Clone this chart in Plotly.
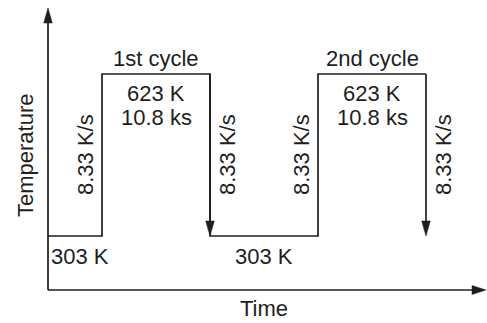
import plotly.graph_objects as go

# schematic data (time in arbitrary units, temperature in K)
time = [0, 1, 1, 3, 3, 5, 5, 7]
temp = [303, 303, 623, 623, 303, 303, 623, 623]
fall_times = [3, 7]
rise_times = [1, 5]
hold_mid = [2, 6]
low_T = 303
high_T = 623
cycle_labels = ["1st cycle", "2nd cycle"]
hold_label = ["623 K", "10.8 ks"]
rate_label = "8.33 K/s"
low_label = "303 K"

W, H = 487, 323
# mapping: 303 K -> pixel 236, 623 K -> pixel 74
b = (236 - 74) / (high_T - low_T)
a = 236 + low_T * b
ymin = (a - H) / b
ymax = a / b
# time: 0 -> pixel 48, 1 unit = 54 px
x0, u = 48, 54
xmin = -x0 / u
xmax = (W - x0) / u

def T_at(py):
    return (a - py) / b

def t_at(px):
    return (px - x0) / u

LC = "#1e1e1e"
LW = 1.7
FONT = dict(family="Liberation Sans, Arial, sans-serif", size=22, color=LC)

fig = go.Figure()
fig.add_trace(go.Scatter(x=time, y=temp, mode="lines",
                         line=dict(color=LC, width=LW), hoverinfo="skip"))

shapes = []

def arrowhead(xt, yt, direction, length=15, half=4.3):
    # direction: 'down', 'up', 'right' ; length/half in pixels
    if direction == "down":
        pts = [(xt, yt), (xt - half / u, yt + length / b), (xt + half / u, yt + length / b)]
    elif direction == "up":
        pts = [(xt, yt), (xt - half / u, yt - length / b), (xt + half / u, yt - length / b)]
    else:
        pts = [(xt, yt), (xt - length / u, yt + half / b), (xt - length / u, yt - half / b)]
    path = "M " + " L ".join(f"{p[0]},{p[1]}" for p in pts) + " Z"
    return dict(type="path", path=path, xref="x", yref="y", fillcolor=LC,
                line=dict(color=LC, width=0.5))

axis_bottom = T_at(290)
y_tip = T_at(8)
x_tip = t_at(486)
# axes lines
shapes.append(dict(type="line", x0=0, y0=axis_bottom, x1=0, y1=y_tip - 10 / b,
                   xref="x", yref="y", line=dict(color=LC, width=LW)))
shapes.append(dict(type="line", x0=0, y0=axis_bottom, x1=x_tip - 10 / u, y1=axis_bottom,
                   xref="x", yref="y", line=dict(color=LC, width=LW)))
shapes.append(arrowhead(0, y_tip, "up", length=15, half=4.3))
shapes.append(arrowhead(x_tip, axis_bottom, "right", length=14, half=4.5))
# falling segments with arrows
for ft in fall_times:
    shapes.append(dict(type="line", x0=ft, y0=high_T, x1=ft, y1=low_T + 8 / b,
                       xref="x", yref="y", line=dict(color=LC, width=LW)))
    shapes.append(arrowhead(ft, low_T, "down", length=15, half=4.3))

ann = []
mid_T = (low_T + high_T) / 2
for rt in rise_times:
    ann.append(dict(x=rt, y=mid_T, xref="x", yref="y", text=rate_label, textangle=-90,
                    showarrow=False, xshift=-17, font=FONT))
for ft in fall_times:
    ann.append(dict(x=ft, y=mid_T, xref="x", yref="y", text=rate_label, textangle=-90,
                    showarrow=False, xshift=17, font=FONT))
for hm, cl in zip(hold_mid, cycle_labels):
    ann.append(dict(x=hm, y=high_T, xref="x", yref="y", text=cl, showarrow=False,
                    yshift=16, font=FONT))
    ann.append(dict(x=hm, y=high_T, xref="x", yref="y", text=hold_label[0], showarrow=False,
                    yshift=-19, font=FONT, height=22))
    ann.append(dict(x=hm, y=high_T, xref="x", yref="y", text=hold_label[1], showarrow=False,
                    yshift=-43, font=FONT, height=22))
# low labels
ann.append(dict(x=0, y=low_T, xref="x", yref="y", text=low_label, showarrow=False,
                xanchor="left", xshift=1, yshift=-20, font=FONT))
ann.append(dict(x=(fall_times[0] + rise_times[1]) / 2, y=low_T, xref="x", yref="y",
                text=low_label, showarrow=False, yshift=-20, font=FONT))
# axis titles
ann.append(dict(x=(fall_times[0] + rise_times[1]) / 2, y=axis_bottom, xref="x", yref="y",
                text="Time", showarrow=False, yshift=-18, font=FONT))
ann.append(dict(x=0, y=mid_T, xref="x", yref="y", text="Temperature", textangle=-90,
                showarrow=False, xshift=-23, font=FONT))

fig.update_layout(
    width=W, height=H, margin=dict(l=0, r=0, t=0, b=0),
    paper_bgcolor="white", plot_bgcolor="white", showlegend=False,
    xaxis=dict(range=[xmin, xmax], visible=False, fixedrange=True),
    yaxis=dict(range=[ymin, ymax], visible=False, fixedrange=True),
    annotations=ann, shapes=shapes,
)
fig.write_html("out.html", config={"displayModeBar": False},
               post_script="document.body.style.margin='0';document.body.style.overflow='hidden';")
